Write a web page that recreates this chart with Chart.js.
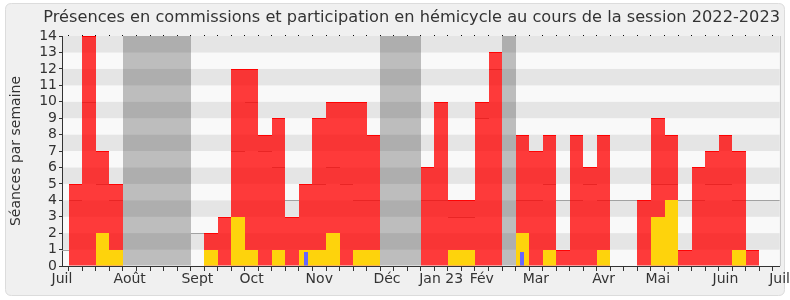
<!DOCTYPE html>
<html>
<head>
<meta charset="utf-8">
<script src="https://cdn.jsdelivr.net/npm/chart.js@4/dist/chart.umd.min.js"></script>
<style>
  html, body { margin: 0; padding: 0; background: #ffffff; }
  #wrap { width: 790px; height: 300px; }
</style>
</head>
<body>
<div id="wrap"><canvas id="c" width="790" height="300"></canvas></div>
<script>
// One entry per week tick (0..53), July 2022 -> July 2023
const weekLabels = ['Juil','','','','','Août','','','','','Sept','','','','Oct','','','','','Nov','','','','','Déc','','','','Jan 23','','','Fév','','','','Mar','','','','','Avr','','','','Mai','','','','','Juin','','','','Juil'];

// Présences (red)
const presences = [0,5,14,7,5,0,0,0,0,0,0,2,3,12,12,8,9,3,5,9,10,10,10,8,0,0,0,6,10,4,4,10,13,0,8,7,8,1,8,6,8,0,0,4,9,8,1,6,7,8,7,1,0,0];
// Participations en hémicycle (yellow)
const participations = [0,0,0,2,1,0,0,0,0,0,0,1,0,3,1,0,1,0,1,1,2,0,1,1,0,0,0,0,0,1,1,0,0,0,2,0,1,0,0,0,1,0,0,0,3,4,0,0,0,0,1,0,0,0];
// Questions (blue)
const questions = [null,null,null,null,null,null,null,null,null,null,null,null,null,null,null,null,null,null,0.85,null,null,null,null,null,null,null,null,null,null,null,null,null,null,null,0.85,null,null,null,null,null,null,null,null,null,null,null,null,null,null,null,null,null,null,null];
// Vacances parlementaires (grey bands, full height)
const vacances = [0,0,0,0,0,14,14,14,14,14,0,0,0,0,0,0,0,0,0,0,0,0,0,0,14,14,14,0,0,0,0,0,0,14,0,0,0,0,0,0,0,0,0,0,0,0,0,0,0,0,0,0,0,0];
// Médiane des députés (grey weekly level)
const mediane = [1,4,10,5,4,null,null,null,null,null,2,2,3,7,10,7,6,4,5,5,6,5,4,4,null,null,null,4,4,3,3,9,12,null,4,4,5,4,4,5,4,4,4,4,5,5,4,4,5,5,4,4,4,4];

const yTicks = [0,1,2,3,4,5,6,7,8,9,10,11,12,13,14];

const FONT = '"DejaVu Sans", sans-serif';

function drawTops(chart, meta, values, color) {
  const a = chart.chartArea;
  const ctx = chart.ctx;
  ctx.save();
  ctx.fillStyle = color;
  meta.data.forEach((el, j) => {
    if (values[j] === null || values[j] === undefined) return;
    const l = Math.max(a.left, el.x - el.width / 2);
    const r = Math.min(a.right, el.x + el.width / 2);
    if (r > l) ctx.fillRect(l, el.y, r - l, 1);
  });
  ctx.restore();
}

const bgPlugin = {
  id: 'bg',
  beforeDraw(chart) {
    const ctx = chart.ctx;
    ctx.save();
    ctx.fillStyle = '#ffffff';
    ctx.fillRect(0, 0, chart.width, chart.height);
    const x = 5.5, y = 3.5, w = 779, h = 292, r = 6;
    ctx.beginPath();
    ctx.moveTo(x + r, y);
    ctx.lineTo(x + w - r, y);
    ctx.quadraticCurveTo(x + w, y, x + w, y + r);
    ctx.lineTo(x + w, y + h - r);
    ctx.quadraticCurveTo(x + w, y + h, x + w - r, y + h);
    ctx.lineTo(x + r, y + h);
    ctx.quadraticCurveTo(x, y + h, x, y + h - r);
    ctx.lineTo(x, y + r);
    ctx.quadraticCurveTo(x, y, x + r, y);
    ctx.closePath();
    ctx.fillStyle = '#f0f0f0';
    ctx.fill();
    ctx.strokeStyle = '#dcdcdc';
    ctx.lineWidth = 1;
    ctx.stroke();
    const a = chart.chartArea;
    const ys = chart.scales.y;
    for (let v = 0; v < 14; v++) {
      const top = ys.getPixelForValue(v + 1);
      const bot = ys.getPixelForValue(v);
      ctx.fillStyle = (v % 2 === 1) ? '#e5e5e5' : '#f9f9f9';
      ctx.fillRect(a.left, top, a.right - a.left, bot - top);
    }
    ctx.strokeStyle = '#c8c8c8';
    ctx.beginPath();
    ctx.moveTo(Math.round(a.right) + 0.5, a.top);
    ctx.lineTo(Math.round(a.right) + 0.5, a.bottom);
    ctx.stroke();
    ctx.restore();
  },
  afterDatasetsUpdate(chart) {
    chart.data.datasets.forEach((ds, i) => {
      const meta = chart.getDatasetMeta(i);
      if (meta.type !== 'bar') return;
      meta.data.forEach(el => {
        const l = Math.round(el.x - el.width / 2);
        const r = Math.round(el.x + el.width / 2);
        el.x = (l + r) / 2;
        el.width = r - l;
        el.y = Math.round(el.y);
      });
    });
  },
  afterDatasetDraw(chart, args) {
    const label = chart.data.datasets[args.index].label;
    if (label === 'Médiane') drawTops(chart, args.meta, mediane, '#a2a2a2');
    if (label === 'Présences') drawTops(chart, args.meta, presences.map(v => v ? v : null), 'rgba(255,0,0,0.95)');
  }
};

const barCommon = { grouped: false, barPercentage: 1, categoryPercentage: 1, inflateAmount: 0, borderWidth: 0 };

new Chart(document.getElementById('c'), {
  type: 'bar',
  data: {
    labels: weekLabels,
    datasets: [
      Object.assign({ label: 'Vacances', data: vacances, backgroundColor: 'rgba(0,0,0,0.24)', order: 5 }, barCommon),
      Object.assign({ label: 'Médiane', data: mediane, backgroundColor: 'rgba(0,0,0,0)', order: 4 }, barCommon),
      Object.assign({ label: 'Présences', data: presences, backgroundColor: 'rgba(255,0,0,0.77)', order: 3 }, barCommon),
      Object.assign({ label: 'Participations', data: participations, backgroundColor: 'rgb(254,211,12)', order: 2 }, barCommon),
      Object.assign({ label: 'Questions', data: questions, backgroundColor: 'rgb(102,102,255)', order: 1 }, barCommon, { barPercentage: 0.3 })
    ]
  },
  options: {
    responsive: false,
    animation: false,
    layout: { padding: { left: 8, right: 10, top: 0, bottom: 0 } },
    plugins: {
      legend: { display: false },
      tooltip: { enabled: false },
      title: {
        display: true,
        align: 'end',
        text: 'Présences en commissions et participation en hémicycle au cours de la session 2022-2023',
        color: '#333333',
        font: { family: FONT, size: 16.2, weight: 'normal' },
        padding: { top: 8, bottom: 8.6 }
      }
    },
    scales: {
      x: {
        type: 'category',
        offset: false,
        grid: { drawOnChartArea: false, drawTicks: true, tickLength: 5, color: '#333333' },
        border: { display: true, color: '#333333' },
        ticks: { autoSkip: false, maxRotation: 0, minRotation: 0, color: '#333333', font: { family: FONT, size: 14 }, padding: 0 },
        afterFit(s) { s.height = 34; }
      },
      x2: {
        type: 'category',
        position: 'top',
        offset: false,
        grid: { drawOnChartArea: false, drawTicks: true, tickLength: 1, color: '#000000' },
        border: { display: false },
        ticks: { display: false },
        afterFit(s) { s.height = 0; }
      },
      y: {
        min: 0, max: 14,
        afterBuildTicks(s) { s.ticks = yTicks.map(v => ({ value: v })); },
        grid: { drawOnChartArea: false, drawTicks: true, tickLength: 3, color: '#333333' },
        border: { display: true, color: '#333333' },
        ticks: { autoSkip: false, color: '#333333', font: { family: FONT, size: 14 }, padding: 2 },
        title: { display: true, text: 'Séances par semaine', color: '#333333', font: { family: FONT, size: 14 }, padding: { top: 0, bottom: 2 } },
        afterFit(s) { s.width = 54; }
      }
    }
  },
  plugins: [bgPlugin]
});
</script>
</body>
</html>
